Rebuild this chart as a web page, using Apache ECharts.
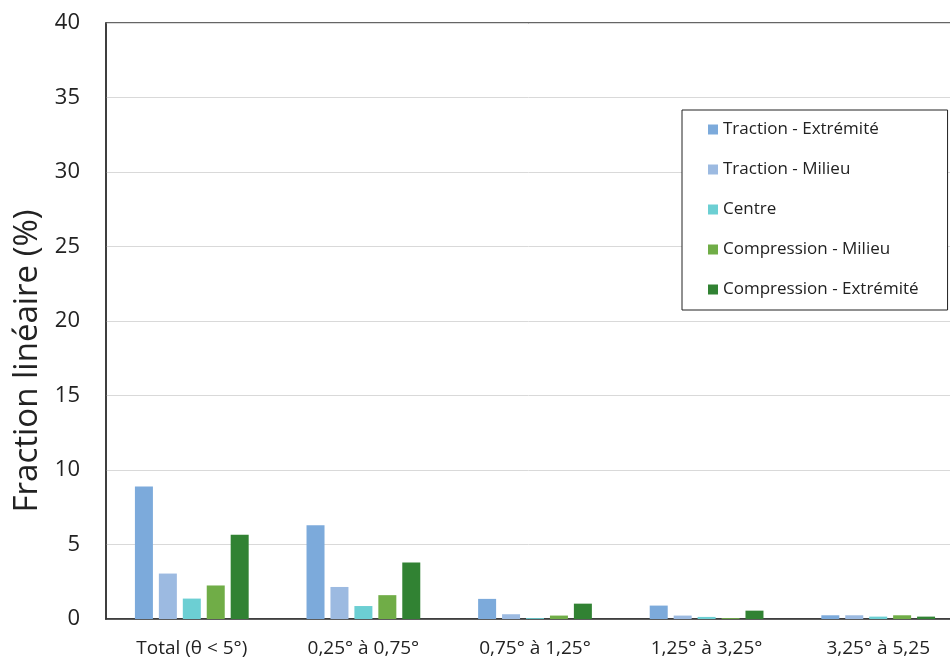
<!DOCTYPE html>
<html>
<head>
    <meta charset="utf-8">
    <title>Fraction linéaire</title>
    <script src="https://cdn.jsdelivr.net/npm/echarts@6/dist/echarts.min.js"></script>
</head>
<body style="margin:0">
<div id="main" style="width: 950px;height:660px;"></div>
<script type="text/javascript">
    // catégories d'angle
    var categories = ['Total (θ < 5°)', '0,25° à 0,75°', '0,75° à 1,25°', '1,25° à 3,25°', '3,25° à 5,25'];
    var seriesNames = ['Traction - Extrémité', 'Traction - Milieu', 'Centre', 'Compression - Milieu', 'Compression - Extrémité'];
    var tractionExtremite = [8.9, 6.3, 1.35, 0.9, 0.25];
    var tractionMilieu = [3.05, 2.15, 0.32, 0.23, 0.25];
    var centre = [1.37, 0.87, 0.06, 0.14, 0.16];
    var compressionMilieu = [2.25, 1.6, 0.23, 0.06, 0.25];
    var compressionExtremite = [5.65, 3.8, 1.03, 0.56, 0.16];
    var colors = ['#7caadb', '#9cbae1', '#6ccfd3', '#70ad47', '#318233'];

    var allData = [tractionExtremite, tractionMilieu, centre, compressionMilieu, compressionExtremite];
    var series = [];
    for (var i = 0; i < allData.length; i++) {
        series.push({
            name: seriesNames[i],
            type: 'bar',
            data: allData[i],
            barWidth: 18,
            barGap: '33%',
            itemStyle: {color: colors[i]}
        });
    }

    var myChart = echarts.init(document.getElementById('main'));
    var option = {
        animation: false,
        textStyle: {fontFamily: 'Open Sans'},
        grid: {
            left: 106, top: 23, bottom: 41, width: 858,
            outerBoundsMode: 'none',
            show: true, borderColor: '#333', borderWidth: 1.5
        },
        legend: {
            orient: 'vertical',
            left: 682, top: 110,
            data: seriesNames,
            itemWidth: 10, itemHeight: 10,
            itemGap: 23,
            padding: [11, 29, 12, 26],
            borderColor: '#222', borderWidth: 1,
            backgroundColor: '#fff',
            icon: 'rect',
            textStyle: {fontSize: 17, color: '#222', fontFamily: 'Open Sans'}
        },
        xAxis: {
            type: 'category',
            data: categories,
            axisTick: {show: false},
            axisLine: {lineStyle: {color: '#333', width: 1.5}},
            axisLabel: {fontSize: 19, color: '#222', margin: 20}
        },
        yAxis: {
            type: 'value',
            min: 0, max: 40, interval: 5,
            name: 'Fraction linéaire (%)',
            nameLocation: 'middle',
            nameGap: 60,
            nameTextStyle: {fontSize: 33, color: '#222', padding: [0, 80, 0, 0]},
            axisLine: {show: true, lineStyle: {color: '#333', width: 1.5}},
            axisLabel: {fontSize: 22, color: '#222', margin: 26},
            splitLine: {lineStyle: {color: '#d9d9d9'}}
        },
        series: series
    };
    myChart.setOption(option);
</script>
</body>
</html>
